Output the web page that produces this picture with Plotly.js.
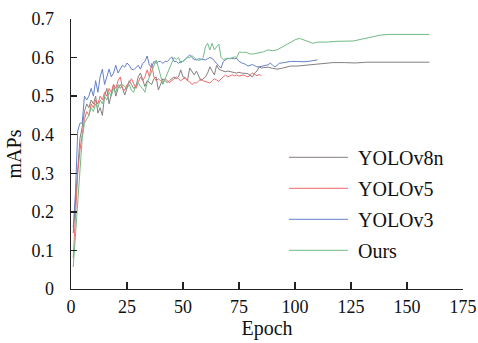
<!DOCTYPE html>
<html>
<head>
<meta charset="utf-8">
<script src="https://cdn.plot.ly/plotly-3.0.1.min.js"></script>
<style>
html,body{margin:0;padding:0;background:#fff;}
#chart{width:478px;height:343px;}
</style>
</head>
<body>
<div id="chart"></div>
<script>
// YOLOv8n
const v8Epoch = [1,2,3,4,5,6,7,8,9,10,11,12,13,14,15,16,17,18,19,20,21,22,23,24,25,26,27,28,29,30,31,32,33,34,35,36,37,38,39,40,41,42,43,44,45,46,47,48,49,50,51,52,53,54,55,56,57,58,59,60,61,62,63,64,65,66,67,68,69,70,71,72,73,74,75,76,77,78,79,80,81,82,83,84,85,86,88,90,92,94,96,98,101,104,108,112,117,122,127,132,137,142,147,152,156,160];
const v8Map = [0.145,0.23,0.32,0.39,0.42,0.46,0.48,0.47,0.49,0.48,0.50,0.456,0.47,0.45,0.50,0.52,0.48,0.51,0.53,0.50,0.52,0.53,0.52,0.503,0.52,0.54,0.53,0.52,0.525,0.55,0.56,0.54,0.525,0.54,0.535,0.53,0.545,0.55,0.516,0.53,0.545,0.54,0.535,0.54,0.545,0.55,0.545,0.55,0.568,0.55,0.548,0.54,0.573,0.565,0.555,0.565,0.55,0.54,0.545,0.55,0.56,0.576,0.565,0.555,0.58,0.57,0.567,0.565,0.563,0.565,0.563,0.562,0.561,0.56,0.562,0.56,0.56,0.559,0.558,0.555,0.55,0.56,0.565,0.576,0.573,0.574,0.575,0.572,0.57,0.572,0.575,0.578,0.578,0.58,0.582,0.584,0.587,0.587,0.586,0.588,0.588,0.587,0.588,0.587,0.588,0.588];
// YOLOv5
const v5Epoch = [1,2,3,4,5,6,7,8,9,10,11,12,13,14,15,16,17,18,19,20,21,22,23,24,25,26,27,28,29,30,31,32,33,34,35,36,37,38,39,40,41,42,43,44,45,46,47,48,49,50,51,52,53,54,55,56,57,58,59,60,61,62,63,64,65,66,67,68,69,70,71,72,73,74,75,76,77,78,79,80,81,82,83,84,85];
const v5Map = [0.08,0.20,0.30,0.36,0.40,0.44,0.46,0.45,0.48,0.47,0.49,0.48,0.50,0.49,0.51,0.50,0.52,0.51,0.53,0.52,0.54,0.55,0.52,0.515,0.53,0.535,0.545,0.53,0.52,0.535,0.55,0.54,0.55,0.568,0.55,0.585,0.55,0.54,0.545,0.54,0.535,0.545,0.54,0.535,0.54,0.545,0.55,0.545,0.54,0.545,0.547,0.54,0.537,0.53,0.535,0.534,0.54,0.545,0.54,0.538,0.536,0.534,0.54,0.545,0.542,0.538,0.545,0.55,0.555,0.55,0.552,0.555,0.553,0.555,0.552,0.554,0.555,0.552,0.55,0.555,0.56,0.556,0.553,0.556,0.553];
// YOLOv3
const v3Epoch = [1,2,3,4,5,6,7,8,9,10,11,12,13,14,15,16,17,18,19,20,21,22,23,24,25,26,27,28,29,30,31,32,33,34,35,36,37,38,39,40,41,42,43,44,45,46,47,48,49,50,51,52,53,54,55,56,57,58,59,60,61,62,63,64,65,66,67,68,69,70,71,72,73,74,75,76,77,78,79,80,81,82,83,84,85,86,87,88,89,90,91,92,93,95,98,101,104,107,110];
const v3Map = [0.16,0.25,0.41,0.43,0.43,0.50,0.49,0.50,0.52,0.50,0.54,0.51,0.55,0.57,0.53,0.55,0.57,0.55,0.56,0.58,0.56,0.57,0.58,0.575,0.586,0.58,0.57,0.568,0.575,0.58,0.57,0.585,0.59,0.604,0.58,0.575,0.59,0.585,0.59,0.59,0.585,0.59,0.59,0.595,0.602,0.59,0.59,0.585,0.59,0.59,0.595,0.60,0.607,0.60,0.595,0.594,0.597,0.596,0.595,0.594,0.597,0.60,0.598,0.59,0.585,0.578,0.573,0.59,0.595,0.598,0.598,0.597,0.597,0.598,0.59,0.587,0.585,0.582,0.578,0.58,0.582,0.579,0.576,0.576,0.578,0.58,0.58,0.581,0.586,0.58,0.576,0.58,0.585,0.587,0.59,0.59,0.589,0.591,0.594];
// Ours
const oursEpoch = [1,2,3,4,5,6,7,8,9,10,11,12,13,14,15,16,17,18,19,20,21,22,23,24,25,26,27,28,29,30,31,32,33,34,35,36,37,38,39,40,41,42,43,44,45,46,47,48,49,50,51,52,53,54,55,56,57,58,59,60,61,62,63,64,65,66,67,68,69,70,71,72,73,74,75,76,77,78,80,82,84,86,88,90,92,94,96,98,100,102,104,106,108,110,114,118,122,126,130,134,138,142,146,150,155,160];
const oursMap = [0.057,0.14,0.25,0.33,0.39,0.43,0.44,0.45,0.47,0.46,0.48,0.47,0.49,0.48,0.50,0.49,0.51,0.50,0.52,0.51,0.53,0.52,0.53,0.525,0.52,0.53,0.515,0.51,0.53,0.535,0.525,0.52,0.51,0.535,0.55,0.56,0.575,0.593,0.575,0.55,0.53,0.545,0.56,0.575,0.585,0.60,0.595,0.60,0.586,0.59,0.595,0.60,0.6,0.605,0.60,0.595,0.593,0.594,0.60,0.628,0.637,0.62,0.637,0.62,0.628,0.635,0.60,0.595,0.597,0.598,0.597,0.60,0.602,0.60,0.614,0.614,0.613,0.614,0.609,0.61,0.612,0.615,0.62,0.618,0.62,0.627,0.633,0.64,0.646,0.65,0.645,0.64,0.637,0.64,0.64,0.642,0.643,0.643,0.648,0.653,0.658,0.66,0.66,0.66,0.66,0.66];

const names = ['YOLOv8n','YOLOv5','YOLOv3','Ours'];
const colors = ['#857e7e','#f06a6a','#6580c8','#72bb86'];
const xs = [v8Epoch, v5Epoch, v3Epoch, oursEpoch];
const ys = [v8Map, v5Map, v3Map, oursMap];

const serif = '"Liberation Serif"';
const traces = names.map((n,i)=>({
  type:'scatter', mode:'lines', name:n, x:xs[i], y:ys[i],
  line:{color:colors[i], width:1}, legendgroup:'g'+i
}));

const layout = {
  width:478, height:343,
  margin:{l:71, r:15, t:19, b:54, pad:0},
  paper_bgcolor:'#fff', plot_bgcolor:'#fff',
  font:{family:serif, color:'#111', size:18},
  showlegend:true,
  legend:{x:0.5536, y:0.56, xanchor:'left', yanchor:'top', font:{family:serif, size:20, color:'#111'},
          bgcolor:'rgba(0,0,0,0)', traceorder:'grouped', tracegroupgap:2, itemwidth:60},
  xaxis:{range:[0,175], tickvals:[0,25,50,75,100,125,150,175], showgrid:false, zeroline:false,
         showline:true, linecolor:'#222', linewidth:1.3, ticks:'inside', ticklen:7, tickcolor:'#222', tickwidth:1.3,
         tickfont:{family:serif, size:18, color:'#111'}, ticklabelstandoff:1,
         title:{text:'Epoch', font:{family:serif, size:20, color:'#111'}, standoff:4}},
  yaxis:{range:[0,0.7], tickvals:[0,0.1,0.2,0.3,0.4,0.5,0.6,0.7], ticktext:['0','0.1','0.2','0.3','0.4','0.5','0.6','0.7'],
         showgrid:false, zeroline:false,
         showline:true, linecolor:'#222', linewidth:1.3, ticks:'inside', ticklen:6, tickcolor:'#222', tickwidth:1.3,
         tickfont:{family:serif, size:18, color:'#111'}, ticklabelstandoff:12,
         title:{text:'mAPs', font:{family:serif, size:20, color:'#111'}, standoff:4}}
};

const LEG_D = 'M1,0h59';
function stretchLegendLines(){
  document.querySelectorAll('#chart .legend .legendlines path').forEach(p=>{
    if(p.getAttribute('d')!==LEG_D) p.setAttribute('d',LEG_D);
  });
}
const chartEl = document.getElementById('chart');
new MutationObserver(stretchLegendLines).observe(chartEl, {subtree:true, childList:true, attributes:true, attributeFilter:['d']});
Plotly.newPlot(chartEl, traces, layout, {displayModeBar:false, staticPlot:true}).then(stretchLegendLines);
</script>
</body>
</html>
